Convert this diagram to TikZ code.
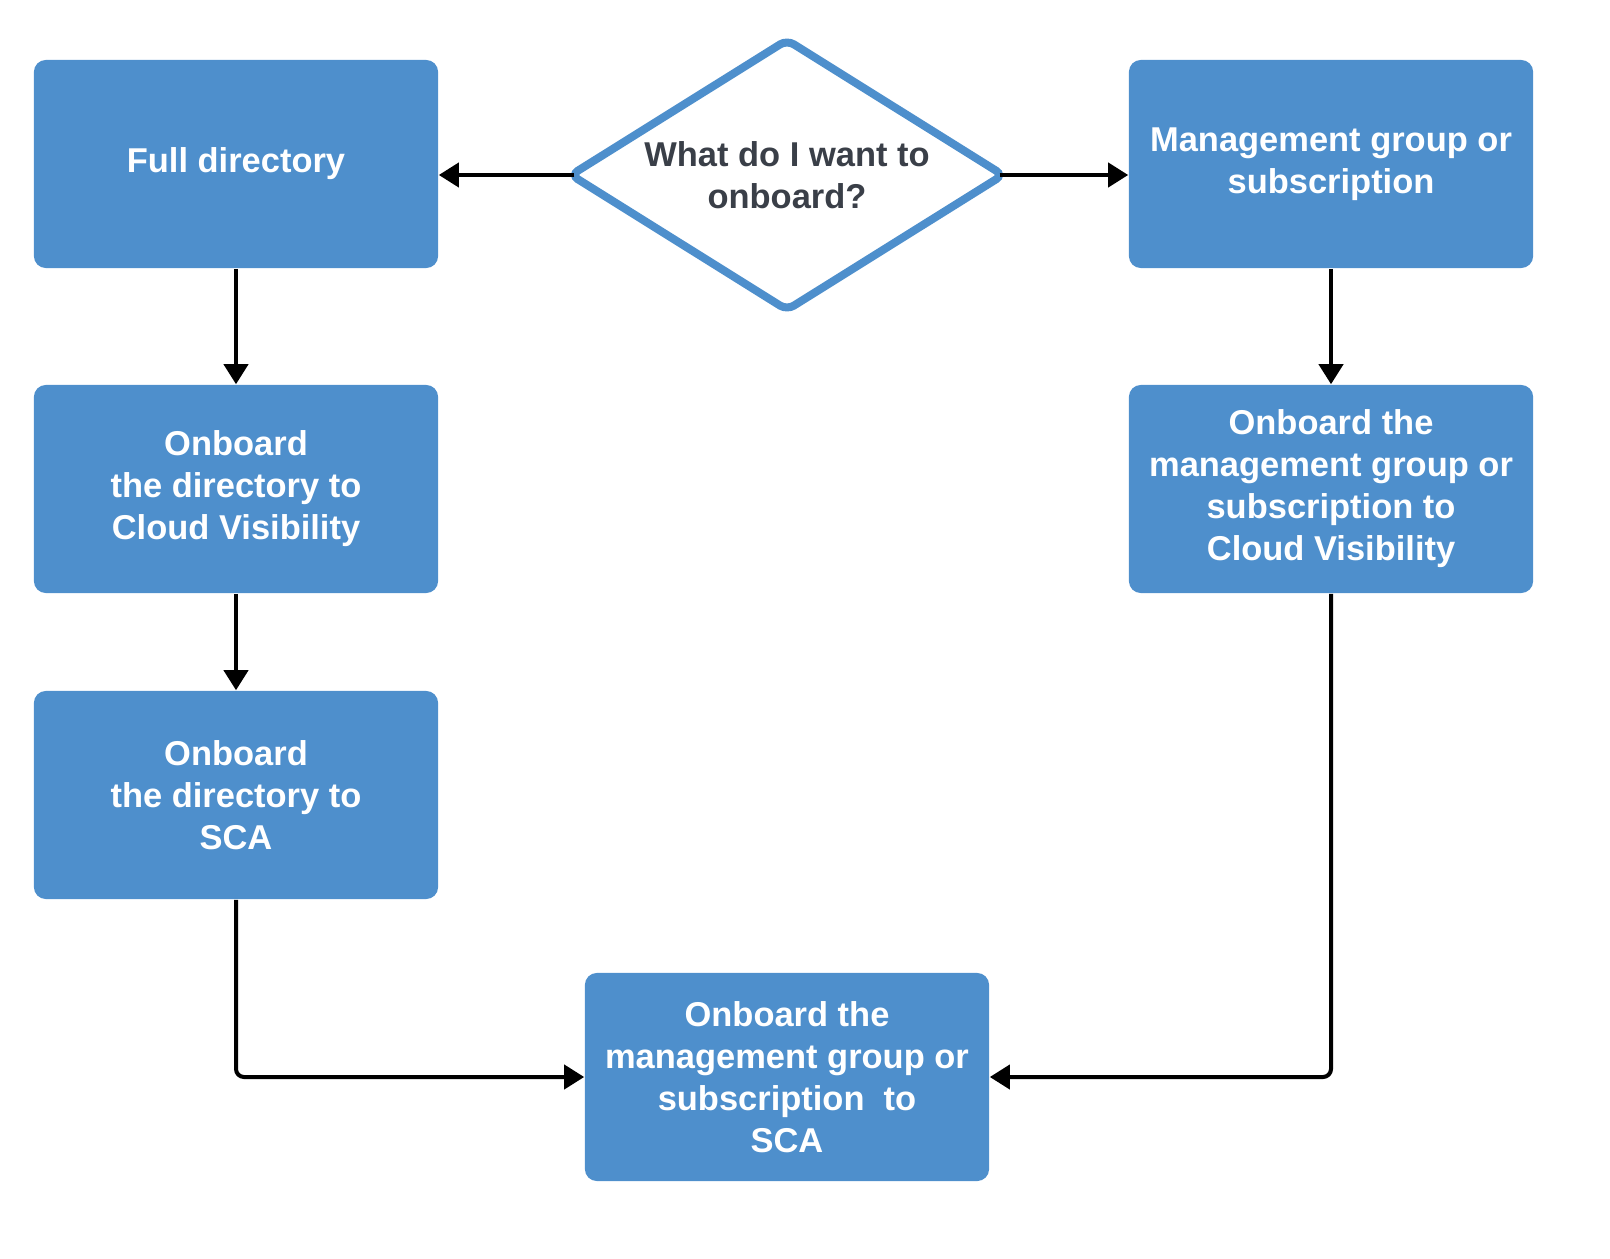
\documentclass[tikz,border=0pt]{standalone}
\usepackage{fontspec}
\setmainfont{Liberation Sans}
\usetikzlibrary{arrows.meta, shapes.geometric, positioning}
\definecolor{boxblue}{RGB}{78,143,204}
\definecolor{darktext}{RGB}{58,63,72}

\begin{document}
\begin{tikzpicture}[x=0.01cm,y=-0.01cm,
		stepbox/.style={rectangle, rounded corners=0.12cm, fill=boxblue, text=white, align=center, minimum width=4.04cm, minimum height=2.08cm, inner sep=0pt, font=\fontsize{9.8}{11.95}\selectfont\bfseries},
		question/.style={diamond, aspect=1.6, draw=boxblue, line width=0.08cm, rounded corners=0.08cm, fill=white, text=darktext, align=center, minimum width=4.35cm, minimum height=2.73cm, inner sep=0pt, font=\fontsize{9.8}{11.95}\selectfont\bfseries},
		link/.style={line width=0.04cm, rounded corners=0.08cm, -{Triangle[length=0.2cm,width=0.24cm]}}]
		\useasboundingbox (0,0) rectangle (1610,1258);
		\node[question] (ask) at (787,175) {What do I want to\\onboard?};
		\node[stepbox] (full) at (236,164) {Full directory};
		\node[stepbox] (dircv) at (236,489) {Onboard\\the directory to\\Cloud Visibility};
		\node[stepbox] (dirsca) at (236,795) {Onboard\\the directory to\\SCA};
		\node[stepbox] (mgmt) at (1331,164) {Management group or\\subscription};
		\node[stepbox] (mgmtcv) at (1331,489) {Onboard the\\management group or\\subscription to\\Cloud Visibility};
		\node[stepbox] (mgmtsca) at (787,1077) {Onboard the\\management group or\\subscription \ to\\SCA};
		
		% the rounded tips of the diamond sit inside its anchors
		\draw[link] ([xshift=0.09cm]ask.west) -- (full.east |- ask.west);
		\draw[link] ([xshift=-0.09cm]ask.east) -- (mgmt.west |- ask.east);
		\draw[link] (full) -- (dircv);
		\draw[link] (dircv) -- (dirsca);
		\draw[link] (mgmt) -- (mgmtcv);
		\draw[link] (dirsca.south) |- (mgmtsca.west);
		\draw[link] (mgmtcv.south) |- (mgmtsca.east);
\end{tikzpicture}
\end{document}
